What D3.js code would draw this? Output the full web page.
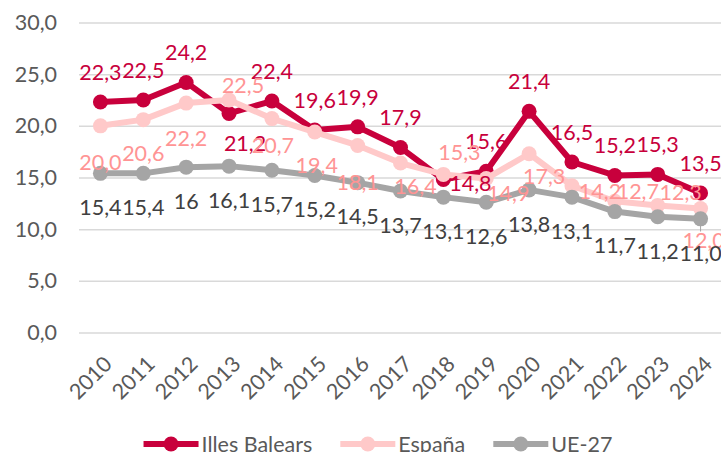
<!DOCTYPE html>
<html>
<head>
<meta charset="utf-8">
<script src="https://cdn.jsdelivr.net/npm/d3@7"></script>
<style>
    body { margin: 0; background: #fff; }
    svg { display: block; font-family: Lato, 'Open Sans', sans-serif; }
</style>
</head>
<body>
<div class="js-chart"></div>
<script>
'use strict';

//chart data
var years = ['2010', '2011', '2012', '2013', '2014', '2015', '2016', '2017',
    '2018', '2019', '2020', '2021', '2022', '2023', '2024'];
var balears = [22.3, 22.5, 24.2, 21.2, 22.4, 19.6, 19.9, 17.9, 14.8, 15.6, 21.4, 16.5, 15.2, 15.3, 13.5];
var espana = [20.0, 20.6, 22.2, 22.5, 20.7, 19.4, 18.1, 16.4, 15.3, 14.9, 17.3, 14.2, 12.7, 12.3, 12.0];
var ue27 = [15.4, 15.4, 16, 16.1, 15.7, 15.2, 14.5, 13.7, 13.1, 12.6, 13.8, 13.1, 11.7, 11.2, 11.0];
var ueLabels = ['15,4', '15,4', '16', '16,1', '15,7', '15,2', '14,5', '13,7', '13,1', '12,6',
    '13,8', '13,1', '11,7', '11,2', '11,0'];
var yTicks = [0, 5, 10, 15, 20, 25, 30];

//label nudges (dx, dy of label centre from its point), excel moved some by hand
var balearsShift = {3: [16, 30], 8: [27, 4]};
var espanaShift = [[0, 36], [0, 34], [0, 35], [14, -15], [1, 27], [2, 33], [0, 37], [15, 23],
    [16, -22], [22, 15], [15, 23], [28, 5], [23, -10], [23, -13], [3, 32]];

var dim = {w: 721, h: 452};
var plot = {left: 79, right: 722, top: 22.5, bottom: 332.5};
var fontSize = 21.5;

var locale = d3.formatLocale({decimal: ',', thousands: '.', grouping: [3], currency: ['', '€']});
var fmt = locale.format('.1f');

var series = [
    {name: 'Illes Balears', values: balears, line: '#C8003C', text: '#C8003C',
        labels: balears.map(fmt)},
    {name: 'España', values: espana, line: '#FFC9C9', text: '#FF9494',
        labels: espana.map(fmt)},
    {name: 'UE-27', values: ue27, line: '#A5A5A5', text: '#404040', labels: ueLabels}
];

var svg = d3.select('.js-chart').append('svg')
    .attr('width', dim.w)
    .attr('height', dim.h);

var x = d3.scaleBand().domain(years).range([plot.left, plot.right]);
var y = d3.scaleLinear().domain([0, 30]).range([plot.bottom, plot.top]);

function cx(i) {
    return x(years[i]) + x.bandwidth() / 2;
}

//y axis with gridlines
function drawYAxis() {
    var g = svg.append('g')
        .attr('transform', 'translate(' + plot.left + ',0)')
        .call(d3.axisLeft(y).tickValues(yTicks).tickFormat(fmt)
            .tickSizeInner(-(dim.w - plot.left)).tickSizeOuter(0).tickPadding(22));
    g.select('.domain').remove();
    g.selectAll('.tick line').attr('stroke', '#D9D9D9').attr('stroke-width', 1.5);
    g.selectAll('.tick text')
        .attr('fill', '#595959')
        .style('font-size', fontSize + 'px')
        .style('font-family', 'Lato');
}

//x axis, labels turned 45 degrees
function drawXAxis() {
    var g = svg.append('g')
        .attr('transform', 'translate(0,' + plot.bottom + ')')
        .call(d3.axisBottom(x).tickSize(0));
    g.select('.domain').remove();
    g.selectAll('.tick text')
        .attr('y', 0)
        .attr('dy', 0)
        .attr('text-anchor', 'end')
        .attr('transform', 'translate(13,33) rotate(-45)')
        .attr('fill', '#595959')
        .style('font-size', fontSize + 'px')
        .style('font-family', 'Lato');
}

function drawSeries(s) {
    var line = d3.line()
        .x(function (d, i) { return cx(i); })
        .y(function (d) { return y(d); });
    svg.append('path')
        .datum(s.values)
        .attr('d', line)
        .attr('fill', 'none')
        .attr('stroke', s.line)
        .attr('stroke-width', 6)
        .attr('stroke-linejoin', 'round');
    svg.selectAll('.js-pt-' + s.name.replace(/\W/g, ''))
        .data(s.values)
        .enter()
        .append('circle')
        .attr('class', 'js-pt-' + s.name.replace(/\W/g, ''))
        .attr('cx', function (d, i) { return cx(i); })
        .attr('cy', function (d) { return y(d); })
        .attr('r', 7.5)
        .attr('fill', s.line);
}

function labelShift(k, i) {
    if (k === 0) {
        return balearsShift[i] || [0, -30];
    }
    if (k === 1) {
        return espanaShift[i];
    }
    return [0, 34];
}

function drawLabels(s, k) {
    svg.selectAll('.js-lb-' + k)
        .data(s.values)
        .enter()
        .append('text')
        .attr('class', 'js-lb-' + k)
        .text(function (d, i) { return s.labels[i]; })
        .attr('x', function (d, i) { return cx(i) + labelShift(k, i)[0]; })
        .attr('y', function (d, i) { return y(d) + labelShift(k, i)[1]; })
        .attr('dy', '0.36em')
        .attr('text-anchor', 'middle')
        .attr('fill', s.text)
        .style('font-size', fontSize + 'px');
}

//leader line of the moved espana 2024 label
function drawLeader() {
    var i = years.length - 1;
    svg.append('line')
        .attr('x1', cx(i)).attr('x2', cx(i))
        .attr('y1', y(espana[i])).attr('y2', y(espana[i]) + espanaShift[i][1] - 9)
        .attr('stroke', '#A5A5A5')
        .attr('stroke-width', 1);
}

function drawLegend() {
    var g = svg.append('g').attr('transform', 'translate(0,444)');
    var pos = 0;
    var items = g.selectAll('g').data(series).enter().append('g');
    items.append('line')
        .attr('x1', 0).attr('x2', 55)
        .attr('stroke', function (d) { return d.line; })
        .attr('stroke-width', 6);
    items.append('circle')
        .attr('cx', 27.5)
        .attr('r', 7.5)
        .attr('fill', function (d) { return d.line; });
    items.append('text')
        .attr('x', 58)
        .attr('dy', '0.36em')
        .attr('fill', '#595959')
        .style('font-size', fontSize + 'px')
        .text(function (d) { return d.name; });
    items.each(function () {
        var w = this.getBBox().width;
        d3.select(this).attr('transform', 'translate(' + pos + ',0)');
        pos += w + 28;
    });
    var total = pos - 28;
    g.attr('transform', 'translate(' + (378 - total / 2) + ',444)');
}

drawYAxis();
drawXAxis();
drawLeader();
series.forEach(drawSeries);
series.forEach(drawLabels);
drawLegend();
</script>
</body>
</html>
